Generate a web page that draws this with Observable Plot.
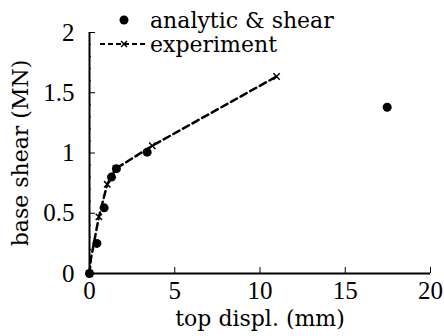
<!DOCTYPE html>
<html>
<head>
<meta charset="utf-8">
<script src="https://cdn.jsdelivr.net/npm/d3@7"></script>
<script src="https://cdn.jsdelivr.net/npm/@observablehq/plot@0.6"></script>
<style>
  body { margin: 0; background: white; }
  #wrap { position: relative; width: 444px; height: 336px; background: white; }
  #legend { position: absolute; left: 100px; top: 8px; font-family: "DejaVu Serif", serif; font-size: 22px; color: black; }
  .row { display: flex; align-items: center; height: 24px; white-space: nowrap; }
  .row svg { display: block; margin-right: 0px; }
</style>
</head>
<body>
<div id="wrap"><div id="legend"></div></div>
<script>
// Series: analytic & shear (filled dots)
const analyticX = [0, 0.43, 0.86, 1.29, 1.58, 3.38, 17.46];
const analyticY = [0, 0.25, 0.545, 0.80, 0.87, 1.007, 1.38];
// Series: experiment (dashed line with x markers)
const experimentX = [0, 0.08, 0.55, 1.04, 1.55, 3.68, 10.97];
const experimentY = [0, 0.12, 0.47, 0.74, 0.87, 1.06, 1.635];
// Axis ticks
const xTicks = [0, 5, 10, 15, 20];
const yTicks = [0, 0.5, 1, 1.5, 2];
const yMinorTicks = [0.1,0.2,0.3,0.4,0.6,0.7,0.8,0.9,1.1,1.2,1.3,1.4,1.6,1.7,1.8,1.9];
const seriesNames = ["analytic & shear", "experiment"];
const xLabel = "top displ. (mm)";
const yLabel = "base shear (MN)";

const analytic = analyticX.map((x, i) => ({x, y: analyticY[i]}));
const experiment = experimentX.map((x, i) => ({x, y: experimentY[i]}));

const chart = Plot.plot({
  width: 444,
  height: 336,
  marginLeft: 89,
  marginRight: 14,
  marginTop: 32,
  marginBottom: 63,
  x: {domain: [0, 20]},
  y: {domain: [0, 2]},
  style: {fontFamily: "Liberation Serif, serif", fontSize: "25px", color: "black", background: "white"},
  marks: [
    Plot.axisY({ticks: yMinorTicks, tickSize: -2, text: null, label: null}),
    Plot.axisY({ticks: yTicks, tickSize: -6, text: null, label: null}),
    Plot.axisY({ticks: yTicks, tickSize: 0, tickPadding: 15, tickFormat: d => String(d), label: null, fontSize: 25}),
    Plot.axisY({ticks: [], tickSize: 0, label: yLabel, labelAnchor: "center", labelArrow: "none", labelOffset: 77, fontFamily: "DejaVu Serif, serif", fontSize: 22}),
    Plot.axisX({ticks: xTicks.filter(d => d !== 0), tickSize: -6, text: null, label: null}),
    Plot.axisX({ticks: xTicks, tickSize: 0, tickPadding: 8, tickFormat: d => String(d), label: null, fontSize: 25}),
    Plot.axisX({ticks: [], tickSize: 0, label: xLabel, labelAnchor: "center", labelArrow: "none", labelOffset: 52, fontFamily: "DejaVu Serif, serif", fontSize: 22}),
    Plot.ruleX([0], {stroke: "black", strokeWidth: 2}),
    Plot.ruleY([0], {stroke: "black", strokeWidth: 2}),
    Plot.line(experiment, {x: "x", y: "y", stroke: "black", strokeWidth: 2.5, strokeDasharray: "7,4"}),
    Plot.dot(experiment.filter((d, i) => i !== 1), {x: "x", y: "y", symbol: "times", r: 3, stroke: "black", strokeWidth: 1.5}),
    Plot.dot(analytic, {x: "x", y: "y", r: 4.5, fill: "black", stroke: "none"})
  ]
});
document.getElementById("wrap").prepend(chart);

// Legend
const legend = d3.select("#legend");
const r1 = legend.append("div").attr("class", "row");
const s1 = r1.append("svg").attr("width", 50).attr("height", 24);
s1.append("circle").attr("cx", 24).attr("cy", 12).attr("r", 4.5).attr("fill", "black");
r1.append("span").text(seriesNames[0]);
const r2 = legend.append("div").attr("class", "row");
const s2 = r2.append("svg").attr("width", 50).attr("height", 24);
s2.append("line").attr("x1", 0).attr("x2", 48).attr("y1", 12).attr("y2", 12)
  .attr("stroke", "black").attr("stroke-width", 2).attr("stroke-dasharray", "5,3");
s2.append("path").attr("d", "M21,9L27,15M21,15L27,9").attr("stroke", "black").attr("stroke-width", 1.5);
r2.append("span").text(seriesNames[1]);
</script>
</body>
</html>
